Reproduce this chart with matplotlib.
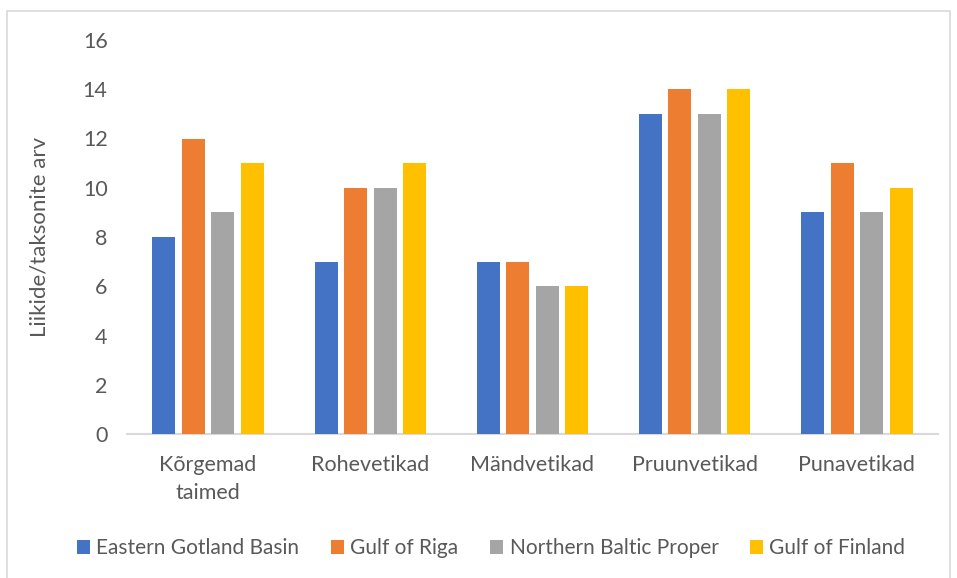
import numpy as np
import matplotlib
matplotlib.use("Agg")
import matplotlib.pyplot as plt
from matplotlib.patches import Rectangle

categories = ["Kõrgemad\ntaimed", "Rohevetikad", "Mändvetikad", "Pruunvetikad", "Punavetikad"]
series = ["Eastern Gotland Basin", "Gulf of Riga", "Northern Baltic Proper", "Gulf of Finland"]
eastern_gotland = [8, 7, 7, 13, 9]
gulf_riga = [12, 10, 7, 14, 11]
northern_baltic = [9, 10, 6, 13, 9]
gulf_finland = [11, 11, 6, 14, 10]
yticks = [0, 2, 4, 6, 8, 10, 12, 14, 16]

colors = ["#4472C4", "#ED7D31", "#A5A5A5", "#FFC000"]
text_col = "#595959"

plt.rcParams["font.family"] = ["Lato", "DejaVu Sans"]

fig = plt.figure(figsize=(9.57, 5.78), dpi=100)
ax = fig.add_axes([127 / 957, 1 - 434 / 578, 811 / 957, 394 / 578])

# light frame around the whole chart area
fig.patches.append(Rectangle((7 / 957, -0.01), 0.985, 1 - 11 / 578 + 0.01,
                             transform=fig.transFigure, fill=False,
                             edgecolor="#D9D9D9", linewidth=1.2))

x = np.arange(len(categories))
step = 0.182
width = 0.142
for i, vals in enumerate([eastern_gotland, gulf_riga, northern_baltic, gulf_finland]):
    ax.bar(x + (i - 1.5) * step, vals, width, color=colors[i], label=series[i], zorder=3)

ax.set_xlim(-0.5, len(categories) - 0.5)
ax.set_ylim(0, 16)
ax.set_yticks(yticks)
ax.set_xticks(x)
ax.set_xticklabels(categories, fontsize=15.5, color=text_col, linespacing=1.5)
ax.tick_params(axis="y", labelsize=15.5, labelcolor=text_col, length=0, pad=14)
ax.tick_params(axis="x", length=0, pad=15)

for s in ["top", "right", "left"]:
    ax.spines[s].set_visible(False)
ax.spines["bottom"].set_color("#D9D9D9")
ax.spines["bottom"].set_linewidth(1.5)

ax.set_ylabel("Liikide/taksonite arv", fontsize=16, color=text_col, labelpad=24)

leg = fig.legend(loc="center", bbox_to_anchor=(491 / 957, 1 - 548 / 578), ncol=4,
                 frameon=False, fontsize=15, handlelength=0.65, handleheight=0.65,
                 handletextpad=0.3, columnspacing=1.5)
for t in leg.get_texts():
    t.set_color(text_col)

fig.savefig("out.png", dpi=100)
